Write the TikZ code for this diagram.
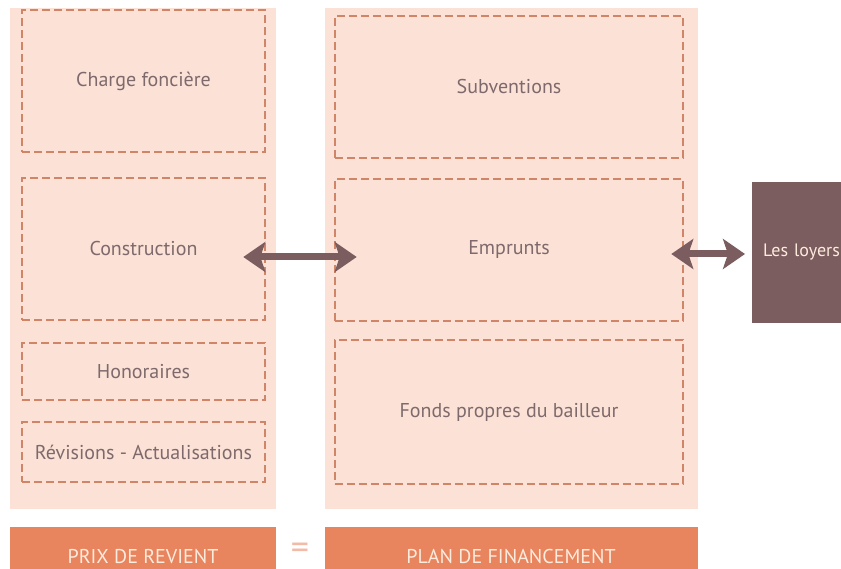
\documentclass[tikz,border=0pt]{standalone}
\usepackage{fontspec}
\setmainfont{PT Sans}
\usetikzlibrary{arrows.meta}

\definecolor{fond}{HTML}{FCE2D6}
\definecolor{tiret}{HTML}{D08468}
\definecolor{texte}{HTML}{7E6A6C}
\definecolor{bande}{HTML}{E8845E}
\definecolor{clair}{HTML}{FDEBDD}
\definecolor{brun}{HTML}{7B5C5F}

\tikzset{
  zone/.style={rectangle, fill=fond, inner sep=0pt},
  poste/.style={rectangle, draw=tiret, line width=2.6pt, dash pattern=on 8pt off 4pt,
    inner sep=0pt, text=texte, font=\fontsize{20}{24}\selectfont},
  bandeau/.style={rectangle, fill=bande, inner sep=0pt, text=clair,
    font=\fontsize{20}{24}\selectfont},
  fleche/.style={draw=brun, line width=7pt,
    {Stealth[length=22pt,width=30pt,inset=5pt]}-{Stealth[length=22pt,width=30pt,inset=5pt]}}
}

\begin{document}
\begin{tikzpicture}[x=1pt,y=-1pt]
\useasboundingbox (0,0) rectangle (841,569);

% colonnes
\node[zone, minimum width=266, minimum height=501] (prix) at (143,258.5){};
\node[zone, minimum width=373, minimum height=501] (plan) at (511,258.5){};

% prix de revient
\node[poste, minimum width=243, minimum height=142] (fonciere) at (143.5,81){Charge foncière};
\node[poste, minimum width=243, minimum height=142] (construction) at (143.5,249){Construction};
\node[poste, minimum width=243, minimum height=57] (honoraires) at (143.5,371.5){Honoraires};
\node[poste, minimum width=243, minimum height=60] (revisions) at (143.5,452){Révisions - Actualisations};

% plan de financement
\node[poste, minimum width=348, minimum height=142] (subventions) at (509,87){Subventions};
\node[poste, minimum width=348, minimum height=142] (emprunts) at (509,250){Emprunts};
\node[poste, minimum width=348, minimum height=144] (fonds) at (509,412){Fonds propres du bailleur};

% loyers
\node[rectangle, fill=brun, text=clair, anchor=west, inner xsep=11pt, inner ysep=0pt,
  text width=110pt, align=left, minimum height=141, font=\fontsize{18}{22}\selectfont]
  (loyers) at (752,252.5){Les loyers};

\draw[fleche] ([xshift=-23]construction.east |- 0,257) -- ([xshift=23]emprunts.west |- 0,257);
\draw[fleche] ([xshift=-13]emprunts.east |- 0,254) -- ([xshift=-7]loyers.west |- 0,254);

% bandeaux
\node[bandeau, minimum width=266, minimum height=58] (revient) at (143,556){PRIX DE REVIENT};
\node[bandeau, minimum width=373, minimum height=58] (financement) at (511,556){PLAN DE FINANCEMENT};
\node[text=bande!55, font=\fontsize{36}{36}\selectfont, inner sep=0pt] (egal) at (300,551){=};

\end{tikzpicture}
\end{document}
